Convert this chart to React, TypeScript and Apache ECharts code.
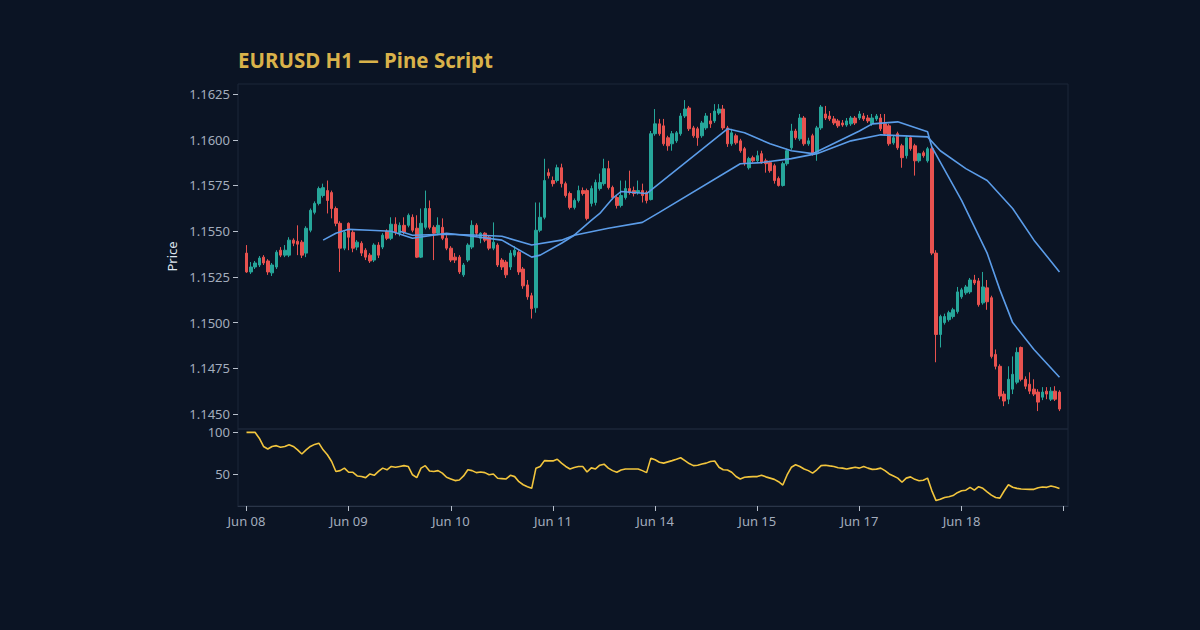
import React, { useEffect, useRef } from "react";
import * as echarts from "echarts";

// ---------- DATA ----------
// Hourly candles: [open, close, low, high]
const candles: [number, number, number, number][] = [
  [1.1538, 1.15277, 1.15272, 1.15424], [1.15277, 1.15304, 1.15266, 1.15331], [1.15304, 1.15326, 1.15293, 1.15337],
  [1.15315, 1.15353, 1.15304, 1.15364], [1.15358, 1.15326, 1.15315, 1.15369], [1.15337, 1.15277, 1.15261, 1.15347],
  [1.15272, 1.15315, 1.15255, 1.15326], [1.15304, 1.15385, 1.15293, 1.15396], [1.15396, 1.15369, 1.15358, 1.15413],
  [1.15369, 1.15396, 1.15358, 1.15424], [1.15369, 1.15451, 1.15358, 1.15467], [1.15451, 1.15434, 1.15418, 1.15461],
  [1.15445, 1.15429, 1.15369, 1.15532], [1.1544, 1.15369, 1.15353, 1.15451], [1.1538, 1.15516, 1.15358, 1.15527],
  [1.15505, 1.15614, 1.15494, 1.15624], [1.15603, 1.15652, 1.15592, 1.15663], [1.15652, 1.15733, 1.15641, 1.15744],
  [1.15695, 1.15738, 1.15684, 1.1576], [1.15722, 1.15668, 1.15597, 1.15777], [1.15711, 1.15624, 1.1557, 1.15722],
  [1.15624, 1.15543, 1.15527, 1.15635], [1.15543, 1.15407, 1.15277, 1.15554], [1.15407, 1.15494, 1.15396, 1.15505],
  [1.15543, 1.15467, 1.15396, 1.15548], [1.15494, 1.15407, 1.15385, 1.15505], [1.15413, 1.1544, 1.15396, 1.15451],
  [1.15434, 1.1538, 1.15364, 1.15445], [1.15396, 1.15358, 1.15342, 1.15407], [1.15369, 1.15337, 1.15326, 1.1538],
  [1.15342, 1.15424, 1.15331, 1.15434], [1.15424, 1.15369, 1.15353, 1.1544],
  [1.15413, 1.15478, 1.15402, 1.15489], [1.155, 1.15461, 1.15451, 1.1551], [1.15461, 1.15538, 1.15451, 1.15576],
  [1.15538, 1.15494, 1.15478, 1.15576], [1.15489, 1.15532, 1.15472, 1.15548], [1.15532, 1.15494, 1.15483, 1.15576],
  [1.15532, 1.15587, 1.15521, 1.15597], [1.15576, 1.15505, 1.15494, 1.15592], [1.15516, 1.15358, 1.15353, 1.15587],
  [1.15358, 1.15543, 1.15353, 1.15624], [1.15521, 1.15624, 1.1551, 1.15722], [1.15624, 1.15521, 1.1551, 1.15668],
  [1.15521, 1.15489, 1.15342, 1.15532], [1.15489, 1.15532, 1.15478, 1.15576], [1.15521, 1.15461, 1.15451, 1.1557],
  [1.15461, 1.15407, 1.15396, 1.15478], [1.15407, 1.15342, 1.15331, 1.15418], [1.15358, 1.15342, 1.15326, 1.1538],
  [1.15358, 1.15277, 1.15266, 1.15369], [1.15261, 1.15315, 1.1525, 1.15326], [1.15342, 1.15424, 1.15331, 1.15434],
  [1.15413, 1.15532, 1.15402, 1.15559], [1.15532, 1.15489, 1.15472, 1.15543], [1.15461, 1.15489, 1.15434, 1.15494],
  [1.15489, 1.15451, 1.1544, 1.15494], [1.15467, 1.15407, 1.15396, 1.15478], [1.15407, 1.1544, 1.15396, 1.15548],
  [1.15424, 1.15315, 1.15304, 1.15434], [1.15342, 1.15304, 1.15288, 1.15353], [1.15331, 1.15261, 1.15244, 1.15342],
  [1.15304, 1.1538, 1.15288, 1.15396], [1.15369, 1.15396, 1.15358, 1.15418], [1.15385, 1.15277, 1.15261, 1.15396],
  [1.15293, 1.15201, 1.15185, 1.15304], [1.15206, 1.15141, 1.15125, 1.15233], [1.15147, 1.15076, 1.15022, 1.15163],
  [1.15081, 1.15505, 1.15054, 1.15657], [1.15505, 1.15576, 1.15494, 1.15657], [1.15576, 1.15777, 1.15565, 1.15896],
  [1.1582, 1.15804, 1.15788, 1.15842], [1.15777, 1.1576, 1.15744, 1.15799], [1.15777, 1.15847, 1.15766, 1.15864],
  [1.15847, 1.1576, 1.15739, 1.15869], [1.1576, 1.15695, 1.15684, 1.15771], [1.15706, 1.1563, 1.15619, 1.15717],
  [1.1563, 1.15668, 1.15619, 1.15679], [1.15668, 1.15722, 1.15657, 1.15749], [1.15722, 1.15706, 1.15695, 1.15739],
  [1.15722, 1.1557, 1.15559, 1.15733], [1.15652, 1.15733, 1.15635, 1.15749], [1.15657, 1.15766, 1.15641, 1.15782],
  [1.15733, 1.15766, 1.15722, 1.15815], [1.1576, 1.15842, 1.15749, 1.15896], [1.15842, 1.15739, 1.15728, 1.15885],
  [1.15739, 1.15684, 1.15673, 1.15749], [1.15684, 1.15641, 1.15624, 1.15695], [1.15641, 1.15695, 1.1563, 1.15777],
  [1.15684, 1.15733, 1.15673, 1.15777], [1.15733, 1.15711, 1.157, 1.15831], [1.15722, 1.15706, 1.1569, 1.15744],
  [1.15711, 1.15722, 1.157, 1.15777], [1.15722, 1.15695, 1.15657, 1.1576], [1.15711, 1.15668, 1.15652, 1.15722],
  [1.15673, 1.16033, 1.15668, 1.16048], [1.16033, 1.16087, 1.16022, 1.16168], [1.16087, 1.16033, 1.16022, 1.16114],
  [1.16076, 1.15978, 1.15967, 1.16114], [1.16011, 1.15967, 1.1594, 1.16022], [1.15978, 1.16033, 1.1594, 1.16048],
  [1.15994, 1.16038, 1.15983, 1.16048], [1.16033, 1.1613, 1.16022, 1.16146], [1.1613, 1.16168, 1.16119, 1.16217],
  [1.16174, 1.1606, 1.16048, 1.16185], [1.16065, 1.16022, 1.16011, 1.16076], [1.1606, 1.16011, 1.15967, 1.16071],
  [1.16022, 1.16092, 1.16011, 1.16103], [1.16065, 1.1613, 1.16054, 1.16146], [1.16103, 1.16087, 1.16065, 1.16146],
  [1.16103, 1.16157, 1.16092, 1.16195], [1.16146, 1.16168, 1.16136, 1.16195], [1.16168, 1.16065, 1.16054, 1.1619],
  [1.16065, 1.15978, 1.15961, 1.16076], [1.15978, 1.16038, 1.15967, 1.1606], [1.16022, 1.15983, 1.15973, 1.16033],
  [1.15994, 1.1594, 1.15929, 1.16005], [1.15951, 1.15875, 1.15858, 1.15961], [1.15847, 1.15897, 1.15837, 1.15907],
  [1.15902, 1.15885, 1.15875, 1.15913], [1.15885, 1.15913, 1.15875, 1.1594], [1.15924, 1.15875, 1.15869, 1.1594],
  [1.15885, 1.15869, 1.1582, 1.15897], [1.15875, 1.15831, 1.1582, 1.15885], [1.15858, 1.15777, 1.1576, 1.15869],
  [1.15788, 1.1575, 1.15744, 1.15799], [1.1575, 1.15869, 1.15744, 1.1588], [1.15869, 1.1594, 1.15858, 1.15951],
  [1.15956, 1.16048, 1.15945, 1.16087], [1.16048, 1.16011, 1.16, 1.1606], [1.16005, 1.16119, 1.15994, 1.16141],
  [1.16119, 1.15978, 1.15967, 1.1613], [1.15978, 1.15994, 1.15967, 1.16011], [1.16022, 1.15924, 1.15913, 1.16033],
  [1.15929, 1.16065, 1.15885, 1.16076], [1.16065, 1.16179, 1.16054, 1.1619], [1.16141, 1.16119, 1.16108, 1.16185],
  [1.1613, 1.16114, 1.16103, 1.16157], [1.16114, 1.16092, 1.16081, 1.1613], [1.16103, 1.16076, 1.16065, 1.16114],
  [1.16092, 1.16081, 1.16071, 1.16108], [1.16081, 1.16103, 1.16071, 1.16119], [1.16087, 1.16119, 1.16076, 1.1613],
  [1.16119, 1.16092, 1.16081, 1.1613], [1.16119, 1.16141, 1.16108, 1.16157], [1.1613, 1.16114, 1.16103, 1.16146],
  [1.16119, 1.16103, 1.16092, 1.16136], [1.16087, 1.16119, 1.16076, 1.16141], [1.16114, 1.1613, 1.16103, 1.16141],
  [1.16119, 1.1606, 1.16048, 1.16141], [1.16087, 1.16033, 1.16022, 1.16141], [1.16076, 1.15978, 1.15967, 1.16087],
  [1.15983, 1.16011, 1.15973, 1.16022], [1.16033, 1.15956, 1.15945, 1.16044], [1.15967, 1.15902, 1.15847, 1.15978],
  [1.15913, 1.16011, 1.15897, 1.16022], [1.16011, 1.15951, 1.1594, 1.16022], [1.15967, 1.15885, 1.15804, 1.15978],
  [1.15885, 1.15924, 1.15875, 1.15929], [1.15929, 1.15913, 1.15902, 1.1594], [1.15885, 1.15951, 1.15875, 1.15961],
  [1.15951, 1.1538, 1.15369, 1.15961], [1.1538, 1.14935, 1.14783, 1.15396], [1.14935, 1.15033, 1.14864, 1.15043],
  [1.15, 1.15033, 1.14989, 1.15049], [1.15016, 1.15054, 1.15005, 1.15065], [1.15033, 1.1507, 1.15022, 1.15081],
  [1.1506, 1.15168, 1.15049, 1.15195], [1.15141, 1.15179, 1.1513, 1.1519], [1.15163, 1.15195, 1.15152, 1.15206],
  [1.15168, 1.15233, 1.15157, 1.15244], [1.15233, 1.15217, 1.15206, 1.15261], [1.15228, 1.15098, 1.15087, 1.15244],
  [1.15108, 1.15195, 1.15098, 1.15277], [1.1519, 1.15114, 1.1507, 1.15233], [1.15136, 1.14815, 1.14804, 1.15147],
  [1.14826, 1.14761, 1.14744, 1.14853], [1.14761, 1.14598, 1.14581, 1.14772], [1.14609, 1.14571, 1.14543, 1.14625],
  [1.14581, 1.1469, 1.14554, 1.14761], [1.14636, 1.14717, 1.14609, 1.14815], [1.14674, 1.14837, 1.14663, 1.14864],
  [1.14864, 1.1469, 1.14679, 1.14869], [1.1469, 1.14652, 1.14636, 1.14706], [1.14663, 1.14625, 1.14609, 1.14728],
  [1.14636, 1.14609, 1.14598, 1.1469], [1.1462, 1.14565, 1.14516, 1.14636], [1.14592, 1.1462, 1.14576, 1.14647],
  [1.14625, 1.14609, 1.14581, 1.14647], [1.14581, 1.14625, 1.14571, 1.14647], [1.14625, 1.14581, 1.14571, 1.14652],
  [1.1462, 1.14527, 1.14516, 1.1463],
];

// Oscillator (lower pane), one value per candle
const oscValues: number[] = [
  100, 100, 100, 93, 83, 80, 83, 84, 82, 83,
  85, 83, 79, 74, 79, 83, 85.5, 87, 79, 73,
  65, 53, 54, 57, 52, 52, 47.6, 47, 45.6, 50,
  48.4, 53, 57, 55, 59, 58, 59, 60, 59, 49,
  45.6, 57, 60, 53.6, 53, 54, 51, 46, 44, 42,
  42.7, 47.6, 55, 54, 51.6, 52.4, 51.6, 49, 50, 44.8,
  44.4, 44, 48.4, 46.8, 40.7, 37, 34.7, 32.7, 56.9, 58.9,
  66, 65.7, 65.7, 67.7, 63, 59, 56, 57.7, 59, 59,
  52.4, 57.3, 56, 60.5, 61.7, 57, 54, 52, 54.8, 56,
  56, 56, 56, 54, 51.6, 69, 67, 64, 63, 64.5,
  66, 67.7, 69.5, 66, 62.5, 60, 60.5, 62, 63, 65,
  65.5, 58, 55, 54.8, 52, 47, 44, 46, 46.5, 46.8,
  46.8, 48.5, 46.5, 45, 43.5, 40.7, 36.7, 48.8, 58, 61,
  59, 56, 54, 51, 55, 60, 60.5, 59.7, 59, 57.5,
  57, 56, 57, 58, 57, 59, 57, 55.5, 55.8, 57,
  54, 50, 47.5, 45, 40, 45, 46.5, 43.5, 41.8, 42.5,
  45, 30, 18, 19.5, 21.8, 22.6, 24, 27.5, 29.8, 30.5,
  33.9, 30.6, 34.7, 32.7, 28.6, 24.6, 21.8, 21, 29.5, 37,
  34, 32.7, 32, 31.7, 31.5, 31.5, 33.5, 34.3, 33.9, 35.5,
  34.3, 32.5,
];

// Moving averages, read at the points where their path bends (candle index, price)
const fastMaIdx = [18, 21, 24, 29, 34, 39, 47, 53, 60, 67, 69, 74, 77, 81, 83, 86, 88, 94, 113, 117, 123, 128, 133, 144, 147, 153, 160, 161, 168, 174, 177, 180, 185, 191];
const fastMaVal = [1.15451, 1.15489, 1.1551, 1.15505, 1.155, 1.15461, 1.15489, 1.15472, 1.15451, 1.15358, 1.15369, 1.15434, 1.15478, 1.15559, 1.15597, 1.15679, 1.15717, 1.15706, 1.1606, 1.16038, 1.15978, 1.1594, 1.15924, 1.16048, 1.16087, 1.16098, 1.16044, 1.15961, 1.15668, 1.1538, 1.15179, 1.15, 1.14853, 1.14701];
const slowMaIdx = [36, 39, 47, 55, 60, 67, 74, 77, 85, 93, 97, 116, 121, 128, 134, 142, 149, 160, 163, 169, 174, 180, 185, 191];
const slowMaVal = [1.155, 1.15478, 1.15483, 1.15478, 1.15472, 1.15424, 1.15451, 1.15478, 1.15516, 1.15548, 1.15603, 1.15869, 1.15875, 1.15897, 1.15924, 1.15994, 1.16027, 1.16016, 1.1594, 1.15842, 1.15777, 1.15624, 1.15451, 1.15277];

// Axis text
const dayLabels = ["Jun 08", "Jun 09", "Jun 10", "Jun 11", "Jun 14", "Jun 15", "Jun 17", "Jun 18"];
const dayStartIdx = [0, 24, 48, 72, 96, 120, 144, 168];
const xTickIdx = [0, 24, 48, 72, 96, 120, 144, 168, 192];
const priceTicks = [1.145, 1.1475, 1.15, 1.1525, 1.155, 1.1575, 1.16, 1.1625];
const oscTicks = [50, 100];

const TITLE = "EURUSD H1 — Pine Script";

// ---------- STYLE ----------
const PAD_LEFT = 2;
const PAD_RIGHT = 2;
const BG = "#0b1424";
const FONT = "'Noto Sans', 'DejaVu Sans', sans-serif";
const UP = "#26a69a";
const DOWN = "#e8524f";
const MA_COLOR = "#5b9ce8";
const OSC_COLOR = "#f2c53d";
const BORDER = "#1c2738";
const LABEL = "#a3adbd";

export default function App() {
  const ref = useRef<HTMLDivElement>(null);

  useEffect(() => {
    if (!ref.current) return;
    const chart = echarts.init(ref.current, undefined, { renderer: "svg" });

    const total = PAD_LEFT + candles.length + PAD_RIGHT;
    const cats = Array.from({ length: total }, (_, k) => String(k));
    const labelAt = new Map<number, string>();
    dayStartIdx.forEach((s, k) => labelAt.set(s + PAD_LEFT, dayLabels[k]));
    const tickAt = new Set<number>(xTickIdx.map((s) => s + PAD_LEFT));

    const candleData = candles.map((c, i) => [i + PAD_LEFT, c[0], c[1], c[2], c[3]]);
    const oscData = oscValues.map((v, i) => [i + PAD_LEFT, v]);
    const fastData = fastMaIdx.map((ix, k) => [ix + PAD_LEFT, fastMaVal[k]]);
    const slowData = slowMaIdx.map((ix, k) => [ix + PAD_LEFT, slowMaVal[k]]);

    const option: any = {
      animation: false,
      backgroundColor: BG,
      textStyle: { fontFamily: FONT },
      title: {
        text: TITLE,
        left: 233,
        top: 44,
        textStyle: { color: "#d9b24a", fontSize: 20.5, fontWeight: "bold", fontFamily: FONT },
      },
      grid: [
        { left: 238, right: 132, top: 84, height: 345, show: true, borderColor: BORDER, borderWidth: 1, backgroundColor: "transparent" },
        { left: 238, right: 132, top: 429, height: 77, show: true, borderColor: BORDER, borderWidth: 1, backgroundColor: "transparent" },
      ],
      xAxis: [
        {
          type: "category",
          gridIndex: 0,
          data: cats,
          boundaryGap: false,
          axisLine: { show: false },
          axisTick: { show: false },
          axisLabel: { show: false },
          splitLine: { show: false },
        },
        {
          type: "category",
          gridIndex: 1,
          data: cats,
          boundaryGap: false,
          axisLine: { show: true, lineStyle: { color: "#2a3548" } },
          axisTick: {
            show: true,
            length: 5,
            interval: (idx: number) => tickAt.has(idx),
            lineStyle: { color: "#b8c0cc" },
          },
          axisLabel: {
            show: true,
            interval: (idx: number) => labelAt.has(idx),
            formatter: (_v: string, idx: number) => labelAt.get(idx) ?? "",
            color: LABEL,
            fontSize: 13,
            margin: 8,
            fontFamily: FONT,
          },
          splitLine: { show: false },
        },
      ],
      yAxis: [
        {
          type: "value",
          gridIndex: 0,
          min: 1.14418,
          max: 1.16305,
          name: "Price",
          nameLocation: "middle",
          nameGap: 55,
          nameTextStyle: { color: "#dfe5ee", fontSize: 13, fontFamily: FONT },
          axisLine: { show: false },
          axisTick: { show: true, length: 5, customValues: priceTicks, lineStyle: { color: "#b8c0cc" } },
          axisLabel: {
            customValues: priceTicks,
            formatter: (v: number) => v.toFixed(4),
            color: LABEL,
            fontSize: 13,
            margin: 8,
            fontFamily: FONT,
          },
          splitLine: { show: false },
        },
        {
          type: "value",
          gridIndex: 1,
          min: 11.5,
          max: 104,
          axisLine: { show: false },
          axisTick: { show: true, length: 5, customValues: oscTicks, lineStyle: { color: "#b8c0cc" } },
          axisLabel: {
            customValues: oscTicks,
            color: LABEL,
            fontSize: 13,
            margin: 8,
            fontFamily: FONT,
          },
          splitLine: { show: false },
        },
      ],
      series: [
        {
          type: "candlestick",
          xAxisIndex: 0,
          yAxisIndex: 0,
          data: candleData,
          encode: { x: 0, y: [1, 2, 3, 4] },
          barWidth: 3,
          itemStyle: { color: UP, color0: DOWN, borderColor: UP, borderColor0: DOWN, borderWidth: 1 },
        },
        {
          type: "line",
          xAxisIndex: 0,
          yAxisIndex: 0,
          data: slowData,
          showSymbol: false,
          symbol: "none",
          lineStyle: { color: MA_COLOR, width: 1.6 },
        },
        {
          type: "line",
          xAxisIndex: 0,
          yAxisIndex: 0,
          data: fastData,
          showSymbol: false,
          symbol: "none",
          lineStyle: { color: MA_COLOR, width: 1.6 },
        },
        {
          type: "line",
          xAxisIndex: 1,
          yAxisIndex: 1,
          data: oscData,
          showSymbol: false,
          symbol: "none",
          lineStyle: { color: OSC_COLOR, width: 1.6 },
        },
      ],
    };

    chart.setOption(option);
    return () => chart.dispose();
  }, []);

  return (
    <div
      ref={ref}
      style={{ position: "fixed", left: 0, top: 0, width: 1200, height: 630, background: BG }}
    />
  );
}
